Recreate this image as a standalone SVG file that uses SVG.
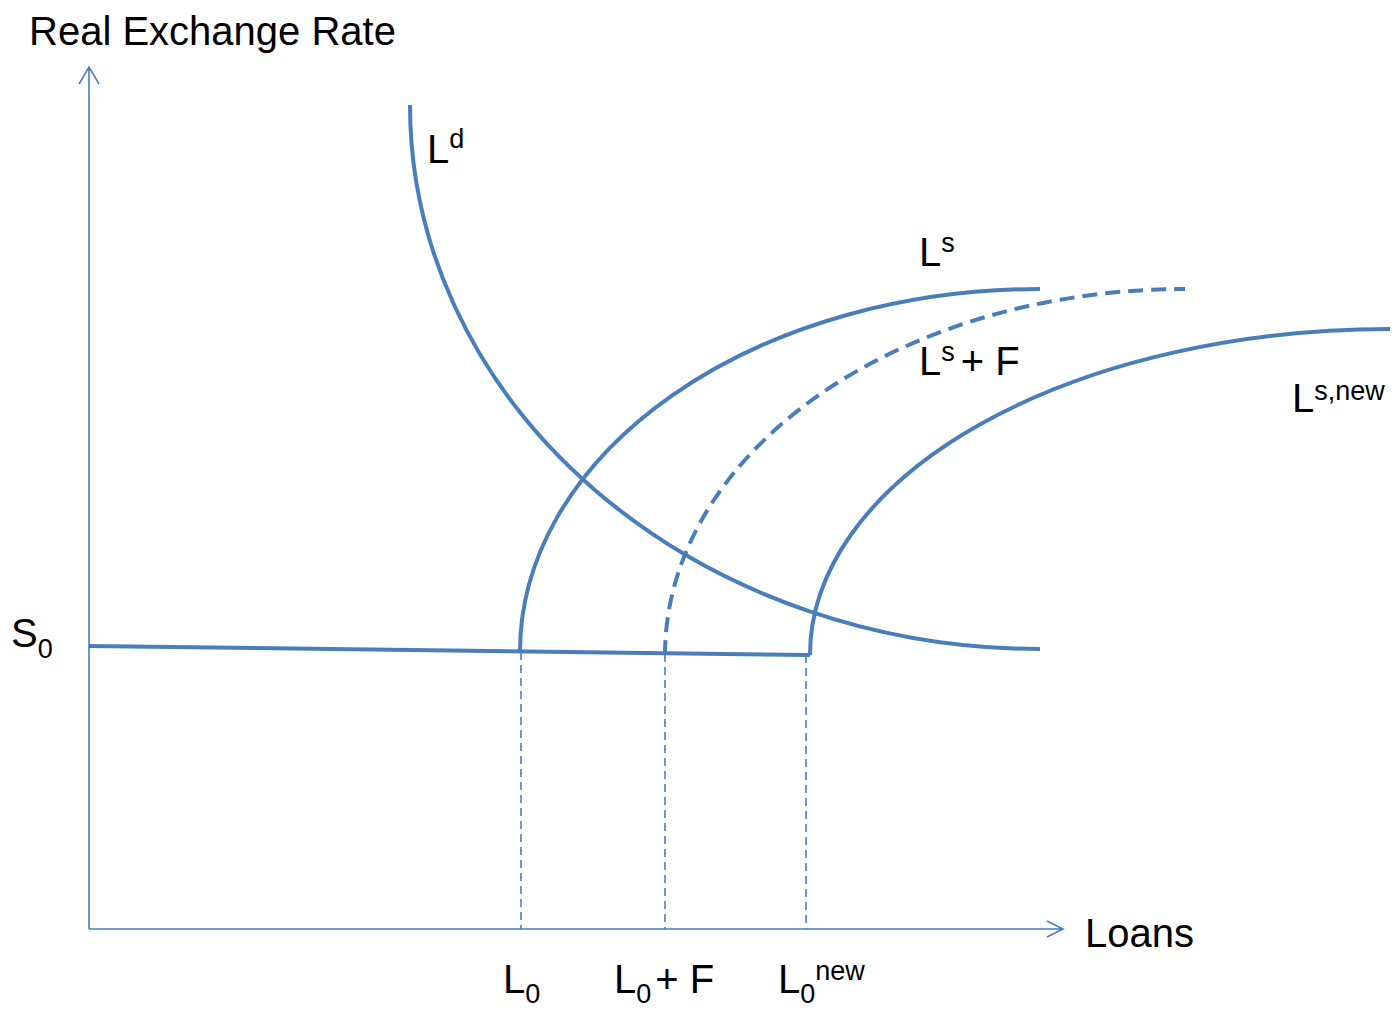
<svg xmlns="http://www.w3.org/2000/svg" width="1396" height="1010" viewBox="0 0 1396 1010">
<style>
text{font-family:"Liberation Sans",Arial,sans-serif;fill:#000;font-size:40px}
.s{font-size:27px}
.curve{fill:none;stroke:#4A7EBB;stroke-width:4}
.axis{fill:none;stroke:#4A7EBB;stroke-width:1.6}
.guide{fill:none;stroke:#4A7EBB;stroke-width:1.6;stroke-dasharray:8,5}
</style>
<rect width="1396" height="1010" fill="#fff"/>
<g id="connectors">
<g id="axes">
<path class="axis" d="M89,929 V67 M79,84 L89,67 L99,84"/>
<path class="axis" d="M89,929 H1063 M1047,921 L1063,929 L1047,937"/>
</g>
<path id="s0-line" class="curve" d="M89,646 L810,655"/>
<path id="guide-l0" class="guide" d="M521,652 V929"/>
<path id="guide-l0f" class="guide" d="M665,654 V929"/>
<path id="guide-l0new" class="guide" d="M806,655 V929"/>
</g>
<g id="ld">
<path class="curve" d="M410,105 A630,544 0 0 0 1040,649"/>
<text x="427" y="163">L<tspan class="s" dy="-15">d</tspan></text>
</g>
<g id="ls">
<path class="curve" d="M520,652 A520,363 0 0 1 1040,289"/>
<text x="919" y="266">L<tspan class="s" dy="-14">s</tspan></text>
</g>
<g id="lsf">
<path class="curve" stroke-dasharray="15,8" d="M665,655 A520,366 0 0 1 1185,289"/>
<text x="919" y="375">L<tspan class="s" dy="-14">s</tspan><tspan dy="14" dx="6">+ F</tspan></text>
</g>
<g id="lsnew">
<path class="curve" d="M810,655 A580,326 0 0 1 1390,329"/>
<text x="1292" y="412">L<tspan class="s" dy="-12">s,new</tspan></text>
</g>
<g id="labels">
<text x="29" y="45">Real Exchange Rate</text>
<text x="1085" y="947">Loans</text>
<text x="11" y="647">S<tspan class="s" dy="11">0</tspan></text>
<text x="503" y="993">L<tspan class="s" dy="10">0</tspan></text>
<text x="614" y="993">L<tspan class="s" dy="10">0</tspan><tspan dy="-10" dx="4">+ F</tspan></text>
<text x="778" y="993">L<tspan class="s" dy="10">0</tspan><tspan class="s" dy="-23">new</tspan></text>
</g>
</svg>
